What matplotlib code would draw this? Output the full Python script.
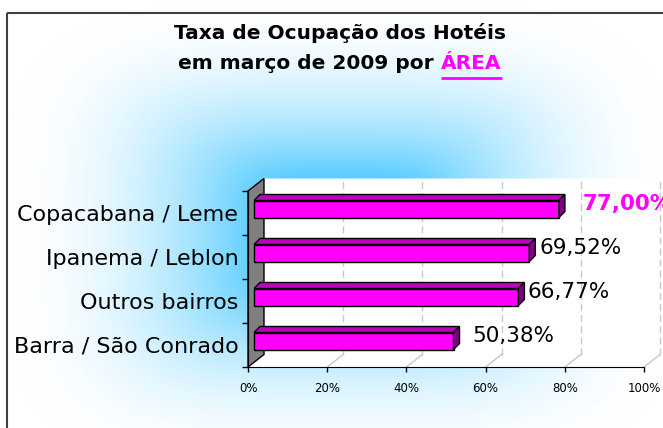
import numpy as np
import matplotlib
matplotlib.use('Agg')
from matplotlib import pyplot as plt
from matplotlib.patches import Rectangle, Polygon

# chart data
areas = ['Barra / São Conrado', 'Outros bairros', 'Ipanema / Leblon', 'Copacabana / Leme']
taxas = [50.38, 66.77, 69.52, 77.00]
rotulos = ['50,38%', '66,77%', '69,52%', '77,00%']
xticks = [0, 20, 40, 60, 80, 100]
xlabels = ['0%', '20%', '40%', '60%', '80%', '100%']

# label nudges (in % units), the way excel scattered them
nudge = [6.2, 3.9, 4.2, 7.6]

W, H = 663, 428
fig = plt.figure(figsize=(W / 100, H / 100), dpi=100)
fig.patch.set_facecolor('white')

# background axes in pixel units
bg = fig.add_axes([0, 0, 1, 1])
bg.set_xlim(0, W)
bg.set_ylim(H, 0)
bg.axis('off')

# light-blue fill from the centre (rounded rectangle falloff)
yy, xx = np.mgrid[0:H, 0:W]
ux = np.abs(xx - 340) / 335.0
uy = np.abs(yy - 235) / 235.0
m = (ux ** 4 + uy ** 4) ** 0.25
f = np.clip(1 - m, 0, 1)
g = np.clip(f / 0.75, 0, 1) ** 2
blue = np.array([90, 205, 255]) / 255.0
img = 1 - g[..., None] * (1 - blue)
bg.imshow(img, extent=(0, W, H, 0), aspect='auto', zorder=0, interpolation='bilinear')
bg.add_patch(Rectangle((6.5, 12.5), 700, 500, fill=False, ec='#404040', lw=1.5, zorder=1))

# title
bg.text(340, 33, 'Taxa de Ocupação dos Hotéis', ha='center', va='center',
        fontsize=14.5, fontweight='bold', zorder=2)
bg.text(434, 63, 'em março de 2009 por', ha='right', va='center',
        fontsize=14.5, fontweight='bold', zorder=2)
t_area = bg.text(441, 63, 'ÁREA', ha='left', va='center', color='#FF00FF',
                 fontsize=14.5, fontweight='bold', zorder=2)
fig.canvas.draw()
bb = t_area.get_window_extent()
bg.plot([bb.x0, bb.x1], [78, 78], color='#FF00FF', lw=2, zorder=2, solid_capstyle='butt')

# main axes = front plane of the 3d box
ax = fig.add_axes([248 / W, (H - 367) / H, 396 / W, 176 / H])
ax.set_facecolor('none')
ax.set_xlim(0, 100)
ax.set_ylim(-0.5, 3.5)
for s in ['top', 'right']:
    ax.spines[s].set_visible(False)
ax.spines['left'].set_zorder(6)
ax.spines['bottom'].set_zorder(6)

pxx = 396 / 100.0   # px per % unit
pxy = 176 / 4.0     # px per category
dx, dy = 16 / pxx, 12.5 / pxy          # wall depth
y0, y1 = -0.5, 3.5

# back wall + floor (white)
ax.add_patch(Polygon([(0, y0), (100, y0), (100 + dx, y0 + dy), (100 + dx + 1, y0 + dy),
                      (100 + dx + 1, y1 + dy), (dx, y1 + dy), (dx, y0 + dy)],
                     closed=True, fc='white', ec='none', zorder=0.5, clip_on=False))
# left wall
ax.add_patch(Polygon([(0, y0), (dx, y0 + dy), (dx, y1 + dy), (0, y1)], closed=True,
                     fc='#808080', ec='black', lw=1, zorder=2, clip_on=False))
# gridlines on back wall and floor
for t in xticks[1:]:
    ax.plot([t + dx, t + dx], [y0 + dy, y1 + dy], color='#C8C8C8', lw=1,
            ls=(0, (5, 3)), zorder=1, clip_on=False)
    ax.plot([t, t + dx], [y0, y0 + dy], color='#C8C8C8', lw=1, zorder=1, clip_on=False)

# bars
bx = 6 / pxx
by = 4 / pxy
h = 17 / pxy
ddx, ddy = 6 / pxx, 6 / pxy
pos = np.arange(len(areas)) + by
ax.barh(pos, taxas, height=h, left=bx, color='#FF00FF', edgecolor='black', lw=1, zorder=4)
for yc, v in zip(pos, taxas):
    top = [(bx, yc + h / 2), (bx + v, yc + h / 2), (bx + v + ddx, yc + h / 2 + ddy),
           (bx + ddx, yc + h / 2 + ddy)]
    side = [(bx + v, yc - h / 2), (bx + v + ddx, yc - h / 2 + ddy),
            (bx + v + ddx, yc + h / 2 + ddy), (bx + v, yc + h / 2)]
    ax.add_patch(Polygon(top, closed=True, fc='#C000C0', ec='black', lw=1, zorder=4, clip_on=False))
    ax.add_patch(Polygon(side, closed=True, fc='#800080', ec='black', lw=1, zorder=4, clip_on=False))

# value labels
for i, (v, lab) in enumerate(zip(taxas, rotulos)):
    if i == len(taxas) - 1:
        ax.text(v + nudge[i], pos[i] + 0.12, lab, ha='left', va='center', fontsize=15.5,
                fontweight='bold', color='#FF00FF', clip_on=False, zorder=5)
    else:
        ax.text(v + nudge[i], pos[i] + 0.12, lab, ha='left', va='center', fontsize=15.5,
                color='black', clip_on=False, zorder=5)

# axes ticks
ax.set_yticks(range(len(areas)))
ax.set_yticklabels(areas, fontsize=16)
ax.set_yticks([-0.5, 0.5, 1.5, 2.5, 3.5], minor=True)
ax.tick_params(axis='y', which='major', length=0, pad=7)
ax.tick_params(axis='y', which='minor', length=4, width=1, direction='out')
ax.set_xticks(xticks)
ax.set_xticklabels(xlabels, fontsize=8.5)
ax.tick_params(axis='x', length=3.5, width=1, direction='out', pad=7.5)

fig.savefig('out.png', dpi=100)
